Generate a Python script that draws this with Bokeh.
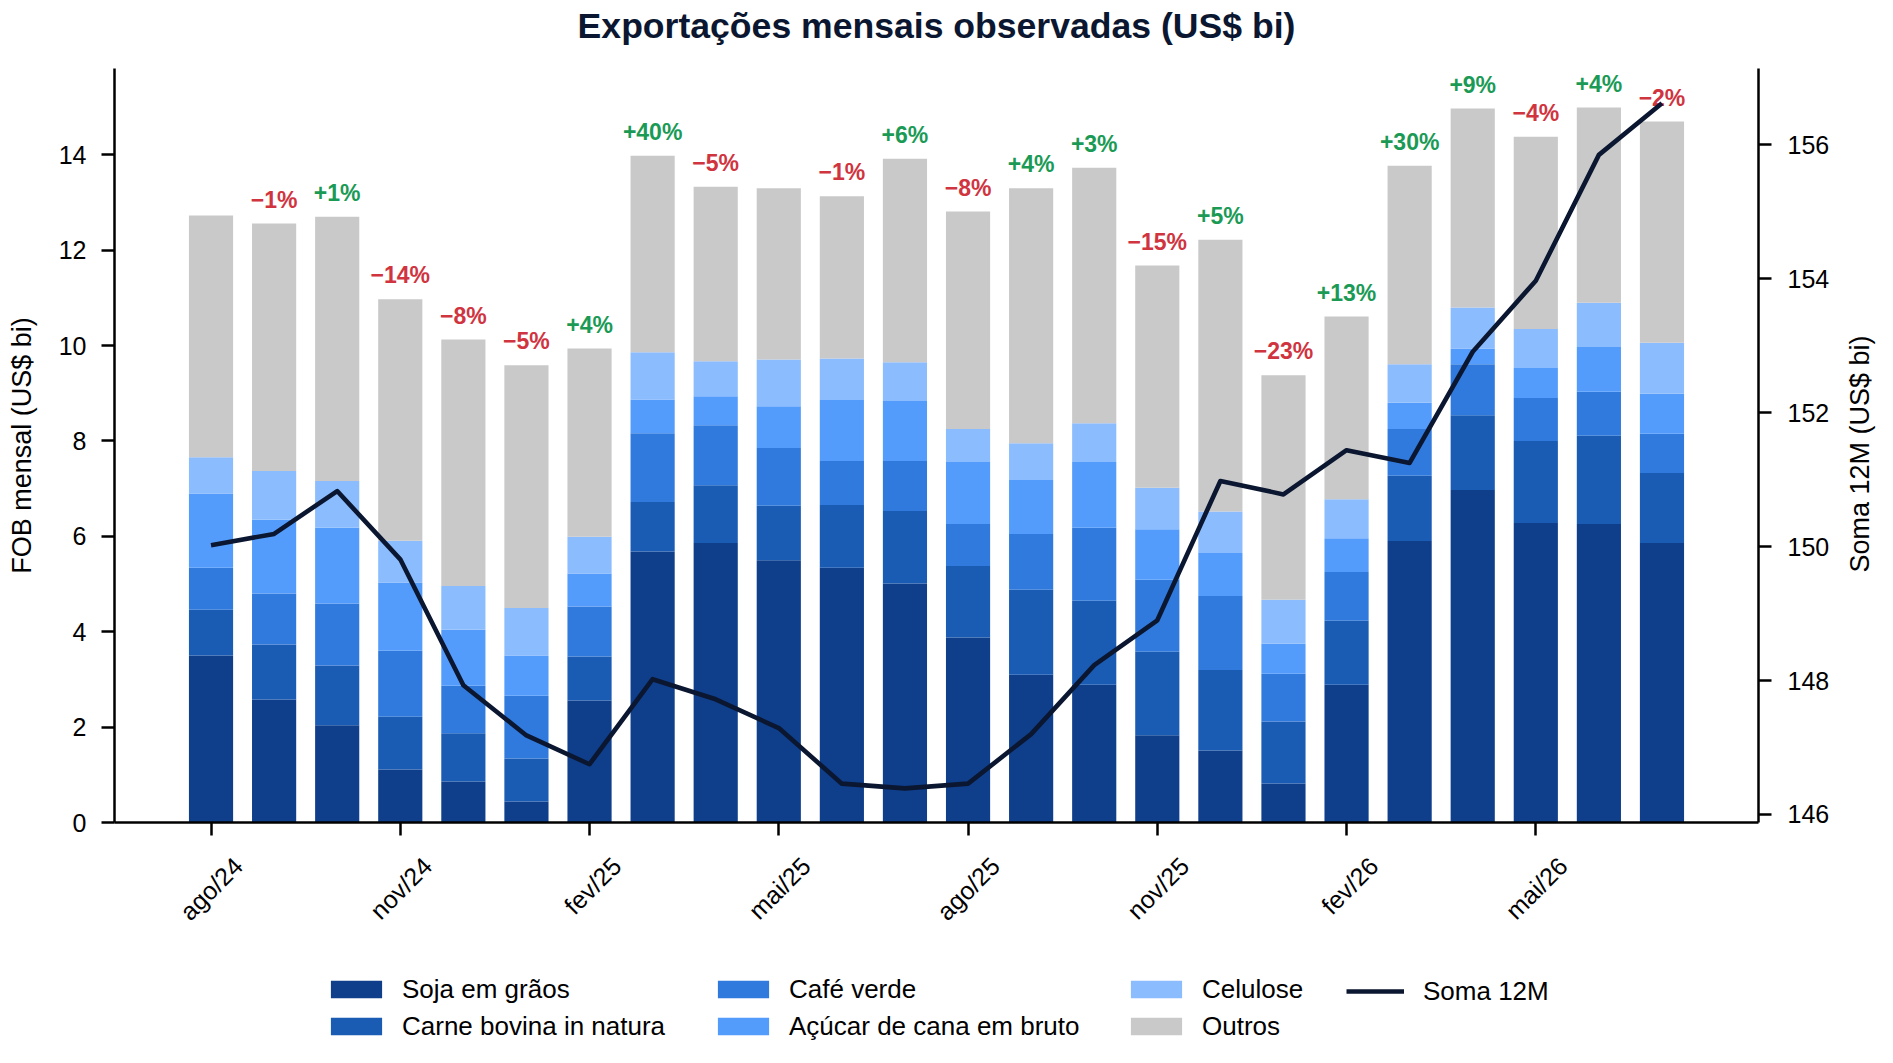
import math
from bokeh.plotting import figure
from bokeh.layouts import column
from bokeh.models import ColumnDataSource, Range1d, LinearAxis, FixedTicker, Legend, LegendItem
from bokeh.core.properties import value
from bokeh.embed import file_html
from bokeh.resources import INLINE

FONT = "Liberation Sans"
NAVY = "#0b1730"

title_text = "Exportações mensais observadas (US$ bi)"
left_label = "FOB mensal (US$ bi)"
right_label = "Soma 12M (US$ bi)"
months = ["ago/24", "set/24", "out/24", "nov/24", "dez/24", "jan/25", "fev/25", "mar/25",
          "abr/25", "mai/25", "jun/25", "jul/25", "ago/25", "set/25", "out/25", "nov/25",
          "dez/25", "jan/26", "fev/26", "mar/26", "abr/26", "mai/26", "jun/26", "jul/26"]

soja = [3.50, 2.58, 2.04, 1.11, 0.86, 0.44, 2.56, 5.68, 5.86, 5.50, 5.34, 5.01,
        3.88, 3.10, 2.89, 1.83, 1.51, 0.82, 2.89, 5.90, 6.97, 6.28, 6.26, 5.86]
carne = [0.96, 1.15, 1.25, 1.11, 1.01, 0.90, 0.92, 1.04, 1.21, 1.14, 1.32, 1.52,
         1.50, 1.78, 1.76, 1.75, 1.69, 1.30, 1.34, 1.37, 1.57, 1.72, 1.85, 1.47]
cafe = [0.88, 1.07, 1.30, 1.38, 1.00, 1.32, 1.05, 1.44, 1.26, 1.21, 0.92, 1.05,
        0.88, 1.17, 1.53, 1.51, 1.55, 1.00, 1.02, 0.98, 1.07, 0.90, 0.92, 0.82]
acucar = [1.56, 1.55, 1.59, 1.43, 1.17, 0.84, 0.69, 0.71, 0.61, 0.88, 1.28, 1.26,
          1.30, 1.13, 1.38, 1.06, 0.90, 0.63, 0.71, 0.55, 0.33, 0.63, 0.94, 0.84]
celulose = [0.76, 1.02, 0.98, 0.88, 0.92, 1.00, 0.77, 0.99, 0.73, 0.98, 0.87, 0.81,
            0.69, 0.77, 0.81, 0.87, 0.87, 0.92, 0.82, 0.81, 0.86, 0.82, 0.93, 1.07]
outros = [5.07, 5.19, 5.54, 5.06, 5.17, 5.09, 3.95, 4.12, 3.66, 3.59, 3.40, 4.27,
          4.56, 5.35, 5.36, 4.66, 5.70, 4.71, 3.83, 4.16, 4.17, 4.03, 4.09, 4.64]
soma12m = [150.02, 150.19, 150.83, 149.81, 147.93, 147.18, 146.75, 148.02, 147.72, 147.29,
           146.46, 146.39, 146.46, 147.20, 148.23, 148.90, 150.98, 150.78, 151.44, 151.25,
           152.91, 153.97, 155.85, 156.62]
pct_labels = ["", "\u22121%", "+1%", "\u221214%", "\u22128%", "\u22125%", "+4%", "+40%",
              "\u22125%", "", "\u22121%", "+6%", "\u22128%", "+4%", "+3%", "\u221215%",
              "+5%", "\u221223%", "+13%", "+30%", "+9%", "\u22124%", "+4%", "\u22122%"]

series_names = ["Soja em grãos", "Carne bovina in natura", "Café verde",
                "Açúcar de cana em bruto", "Celulose", "Outros"]
series_keys = ["soja", "carne", "cafe", "acucar", "celulose", "outros"]
colors = ["#0f3e8b", "#1a5bb4", "#317add", "#549cfc", "#8bbcfd", "#c9c9c9"]
line_name = "Soma 12M"
left_ticks = [0, 2, 4, 6, 8, 10, 12, 14]
right_ticks = [146, 148, 150, 152, 154, 156]
x_tick_idx = [0, 3, 6, 9, 12, 15, 18, 21]

xs = list(range(len(months)))
src = ColumnDataSource(dict(x=xs, soja=soja, carne=carne, cafe=cafe, acucar=acucar,
                            celulose=celulose, outros=outros))
totals = [sum(v) for v in zip(soja, carne, cafe, acucar, celulose, outros)]

W = 1893
FL, FR = 114, 1764          # frame left / right (page px)
H_TITLE = 68
H_MAIN = 875
H_LEG = 1063 - H_TITLE - H_MAIN


def strip(height):
    f = figure(width=W, height=height, x_range=Range1d(FL, FR), y_range=Range1d(0, height),
               output_backend="svg", toolbar_location=None, title=None,
               x_axis_location=None, y_axis_location=None,
               min_border_left=FL, min_border_right=W - FR, min_border_top=0, min_border_bottom=0)
    f.outline_line_color = None
    f.grid.visible = False
    f.background_fill_color = "white"
    f.border_fill_color = "white"
    return f


# ---- title strip ----
t = strip(H_TITLE)
t.text(x=[(FL + FR) / 2], y=[H_TITLE - 25], text=[title_text], text_align="center",
       text_baseline="alphabetic", text_font=value(FONT), text_font_style="bold",
       text_font_size="35.6px", text_color=NAVY)

# ---- main chart ----
X0, X1 = -1.53, 24.53
D = 0.43
R0, R1 = 145.88, 157.14
p = figure(width=W, height=H_MAIN, x_range=Range1d(X0, X1), y_range=Range1d(0, 15.81),
           output_backend="svg", toolbar_location=None, title=None,
           x_axis_location=None, y_axis_location=None,
           min_border_left=FL, min_border_right=W - FR, min_border_top=0,
           min_border_bottom=H_TITLE + H_MAIN - 822)
p.extra_y_ranges = {"r": Range1d(R0, R1)}
p.extra_x_ranges = {"lbl": Range1d(X0 - D, X1 - D)}
p.outline_line_color = None
p.background_fill_color = "white"
p.border_fill_color = "white"
p.grid.visible = False


def style_axis(ax):
    ax.axis_line_color = "black"
    ax.axis_line_width = 2.5
    ax.major_tick_line_color = "black"
    ax.major_tick_line_width = 2.5
    ax.major_tick_out = 13
    ax.major_tick_in = 0
    ax.minor_tick_line_color = None
    ax.major_label_text_font = FONT
    ax.major_label_text_font_size = "25px"
    ax.major_label_text_color = "black"
    ax.axis_label_text_font = FONT
    ax.axis_label_text_font_size = "27px"
    ax.axis_label_text_font_style = "normal"
    ax.axis_label_text_color = "black"


yl = LinearAxis(ticker=FixedTicker(ticks=left_ticks), axis_label=left_label)
style_axis(yl)
yl.major_label_standoff = 15
yl.axis_label_standoff = 19
p.add_layout(yl, "left")

yr = LinearAxis(y_range_name="r", ticker=FixedTicker(ticks=right_ticks))
style_axis(yr)
yr.major_label_standoff = 16
p.add_layout(yr, "right")

# right axis title: drawn as the single tick label of an otherwise invisible axis,
# anchored at the lower end of the text so that it reads bottom-to-top, centred on the frame
lab_v = round(R0 + (R1 - R0) * (822 - 572) / (822 - 68), 3)
yr2 = LinearAxis(y_range_name="r", ticker=FixedTicker(ticks=[lab_v]))
style_axis(yr2)
yr2.axis_line_color = None
yr2.major_tick_line_color = None
yr2.major_tick_out = 0
yr2.major_label_text_font_size = "27px"
yr2.major_label_orientation = math.pi / 2
yr2.major_label_standoff = 28
yr2.major_label_overrides = {lab_v: right_label}
p.add_layout(yr2, "right")

xa = LinearAxis(ticker=FixedTicker(ticks=x_tick_idx))
style_axis(xa)
xa.major_label_text_font_size = "1px"
xa.major_label_text_alpha = 0
xa.major_label_standoff = 0
p.add_layout(xa, "below")

xl = LinearAxis(x_range_name="lbl", ticker=FixedTicker(ticks=x_tick_idx))
style_axis(xl)
xl.axis_line_color = None
xl.major_tick_line_color = None
xl.major_tick_out = 0
xl.major_label_orientation = math.pi / 4
xl.major_label_standoff = 26
xl.major_label_overrides = {i: months[i] for i in x_tick_idx}
p.add_layout(xl, "below")

p.vbar_stack(series_keys, x="x", width=0.7, color=colors, source=src, line_width=0)

lsrc = ColumnDataSource(dict(
    x=xs,
    y=[v + 0.50 for v in totals],
    t=pct_labels,
    c=["#1a9a55" if s.startswith("+") else "#d0343f" for s in pct_labels],
))
p.text(x="x", y="y", text="t", source=lsrc, text_align="center", text_baseline="alphabetic",
       text_font=value(FONT), text_font_style="bold", text_font_size="23px", text_color="c")

p.line(xs, soma12m, y_range_name="r", line_width=4.6, line_color=NAVY, line_join="round")

# ---- legend strip ----
q = strip(H_LEG)
dummy = [q.vbar(x=[-100], top=[-100], bottom=[-101], width=1, color=c, line_width=0) for c in colors]
dummy_line = q.line(x=[-100, -99], y=[-100, -100], line_width=4.6, line_color=NAVY)

ITEM_H = 29
ROW_GAP = 6
row2_center_from_bottom = 1063 - 1027
bottom2 = row2_center_from_bottom - ITEM_H / 2
cols = [([0, 1], 402), ([2, 3], 789), ([4, 5], 1202)]   # page x of label text
BAR_GW, BAR_SO = 64, 14
for idx, text_x in cols:
    items = [LegendItem(label=series_names[k], renderers=[dummy[k]]) for k in idx]
    lg = Legend(items=items, location=(text_x - BAR_GW - BAR_SO - FL, bottom2), orientation="vertical")
    lg.glyph_width = BAR_GW
    lg.glyph_height = 22
    lg.label_standoff = BAR_SO
    q.add_layout(lg, "center")
lg = Legend(items=[LegendItem(label=line_name, renderers=[dummy_line])],
            location=(1346 - FL, bottom2 + ITEM_H + ROW_GAP), orientation="vertical")
lg.glyph_width = 58
lg.glyph_height = 22
lg.label_standoff = 19
q.add_layout(lg, "center")

for lg in q.legend:
    lg.padding = 0
    lg.margin = 0
    lg.border_line_color = None
    lg.background_fill_alpha = 0
    lg.label_height = ITEM_H
    lg.spacing = ROW_GAP
    lg.label_text_font = FONT
    lg.label_text_font_size = "26px"
    lg.label_text_color = "black"

layout = column(t, p, q, spacing=0)
open("out.html", "w").write(file_html(layout, INLINE))
